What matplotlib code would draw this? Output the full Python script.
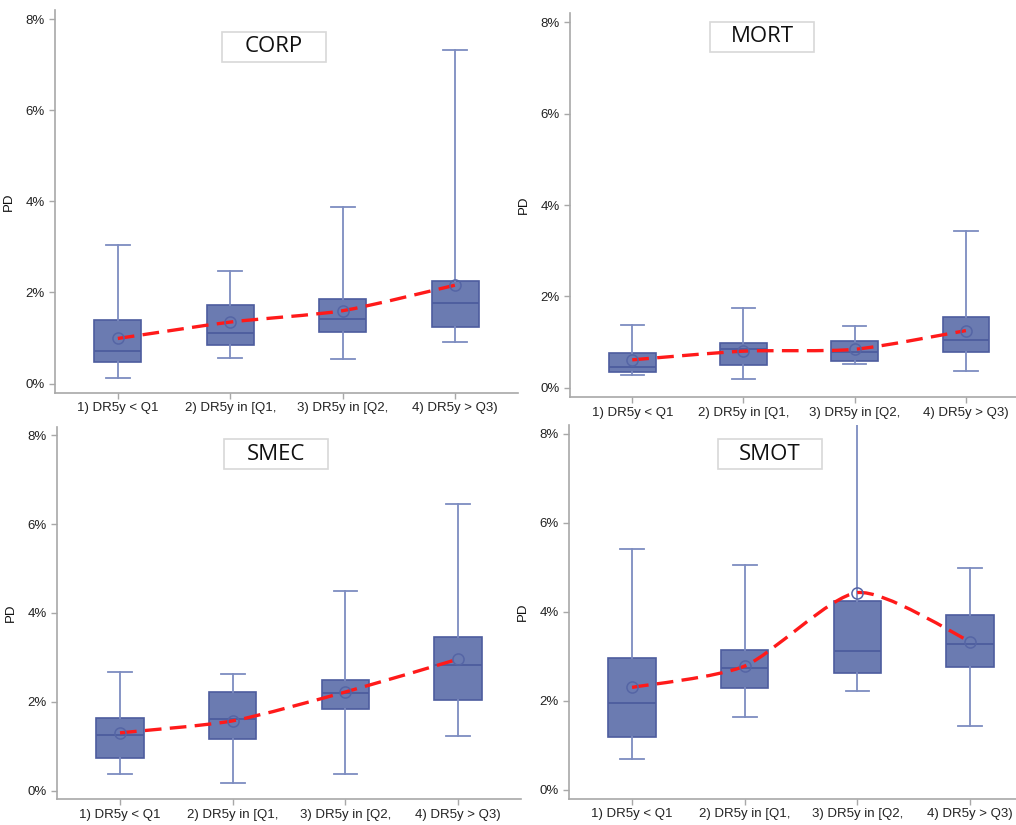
import matplotlib
matplotlib.use("Agg")
from matplotlib import pyplot as plt
from matplotlib.path import Path
from matplotlib.patches import PathPatch, Rectangle
from matplotlib.ticker import FuncFormatter

# categorias do eixo x
categorias = ["1) DR5y < Q1", "2) DR5y in [Q1,", "3) DR5y in [Q2,", "4) DR5y > Q3)"]

# valores em %: minimo, Q1, mediana, Q3, maximo, media
corp_min = [0.12, 0.56, 0.55, 0.92]
corp_q1 = [0.47, 0.85, 1.13, 1.24]
corp_med = [0.71, 1.12, 1.42, 1.76]
corp_q3 = [1.40, 1.73, 1.86, 2.25]
corp_max = [3.05, 2.47, 3.87, 7.33]
corp_media = [0.99, 1.35, 1.60, 2.16]

mort_min = [0.28, 0.19, 0.52, 0.36]
mort_q1 = [0.34, 0.50, 0.58, 0.79]
mort_med = [0.46, 0.85, 0.78, 1.05]
mort_q3 = [0.77, 0.97, 1.02, 1.54]
mort_max = [1.37, 1.75, 1.34, 3.43]
mort_media = [0.61, 0.80, 0.84, 1.25]

smec_min = [0.37, 0.18, 0.37, 1.22]
smec_q1 = [0.73, 1.17, 1.84, 2.04]
smec_med = [1.25, 1.62, 2.19, 2.82]
smec_q3 = [1.64, 2.22, 2.49, 3.46]
smec_max = [2.66, 2.63, 4.50, 6.46]
smec_media = [1.30, 1.57, 2.22, 2.96]

smot_min = [0.68, 1.63, 2.21, 1.44]
smot_q1 = [1.18, 2.28, 2.63, 2.75]
smot_med = [1.94, 2.73, 3.11, 3.27]
smot_q3 = [2.95, 3.15, 4.25, 3.92]
smot_max = [5.41, 5.06, 9.00, 4.98]
smot_media = [2.30, 2.78, 4.43, 3.33]

paineis = [
    ("CORP", corp_min, corp_q1, corp_med, corp_q3, corp_max, corp_media),
    ("MORT", mort_min, mort_q1, mort_med, mort_q3, mort_max, mort_media),
    ("SMEC", smec_min, smec_q1, smec_med, smec_q3, smec_max, smec_media),
    ("SMOT", smot_min, smot_q1, smot_med, smot_q3, smot_max, smot_media),
]

# posicoes dos eixos (left, bottom, width, height) e das caixas de titulo
posicoes = [
    [0.054, 0.524, 0.456, 0.464],
    [0.561, 0.519, 0.451, 0.465],
    [0.056, 0.031, 0.457, 0.452],
    [0.560, 0.032, 0.457, 0.453],
]
titulos_pos = [(274, 47), (762, 37), (276, 454), (770, 454)]

W, H = 1016, 825
fig = plt.figure(figsize=(W / 100, H / 100), dpi=100)

fonte_eixo = ["Liberation Sans Narrow", "Liberation Sans", "DejaVu Sans"]
cor_caixa = "#6b7bb1"
cor_borda = "#4d5c9e"
cor_bigode = "#7d8cc0"
cor_spine = "#a8a8a8"


def curva_suave(x, y, k=0.12):
    # bezier cubica passando pelas medias (estilo spline)
    verts = [(x[0], y[0])]
    codes = [Path.MOVETO]
    n = len(x)
    for i in range(n - 1):
        x0, y0 = (x[i - 1], y[i - 1]) if i > 0 else (x[i], y[i])
        x3, y3 = (x[i + 2], y[i + 2]) if i + 2 < n else (x[i + 1], y[i + 1])
        c1 = (x[i] + k * (x[i + 1] - x0), y[i] + k * (y[i + 1] - y0))
        c2 = (x[i + 1] - k * (x3 - x[i]), y[i + 1] - k * (y3 - y[i]))
        verts += [c1, c2, (x[i + 1], y[i + 1])]
        codes += [Path.CURVE4] * 3
    return Path(verts, codes)


for (nome, mn, q1, med, q3, mx, media), pos, tpos in zip(paineis, posicoes, titulos_pos):
    ax = fig.add_axes(pos)
    stats = []
    for i in range(len(categorias)):
        stats.append({"whislo": mn[i], "q1": q1[i], "med": med[i], "q3": q3[i],
                      "whishi": mx[i], "mean": media[i], "fliers": []})
    xs = list(range(len(categorias)))
    ax.bxp(stats, positions=xs, widths=0.42, patch_artist=True, showmeans=False,
           boxprops=dict(facecolor=cor_caixa, edgecolor=cor_borda, linewidth=1.2),
           medianprops=dict(color=cor_borda, linewidth=1.3),
           whiskerprops=dict(color=cor_bigode, linewidth=1.3),
           capprops=dict(color=cor_bigode, linewidth=1.3),
           manage_ticks=False)

    caminho = curva_suave(xs, media)
    ax.add_patch(PathPatch(caminho, facecolor="none", edgecolor="#ff1a1a",
                           linewidth=2.4, linestyle=(0, (5, 2.5)), zorder=4))
    ax.plot(xs, media, linestyle="none", marker="o", markersize=8,
            markerfacecolor="none", markeredgecolor="#5565a5", markeredgewidth=1.1, zorder=5)

    ax.set_xlim(-0.56, 3.56)
    ax.set_ylim(-0.2, 8.2)
    ax.set_yticks([0, 2, 4, 6, 8])
    ax.yaxis.set_major_formatter(FuncFormatter(lambda v, p: f"{v:.0f}%"))
    ax.set_xticks(xs)
    ax.set_xticklabels(categorias)
    for lbl in ax.get_xticklabels() + ax.get_yticklabels():
        lbl.set_family(fonte_eixo)
        lbl.set_fontsize(9.5)
        lbl.set_color("#222222")
    ax.tick_params(axis="both", colors=cor_spine, length=4, width=1, labelcolor="#222222")
    ax.tick_params(axis="x", pad=3)
    ax.set_ylabel("PD", fontsize=9.5, family=["Liberation Sans", "DejaVu Sans"], color="#111111")
    ax.yaxis.set_label_coords(-40 / (pos[2] * W), 0.5)
    for s in ["top", "right"]:
        ax.spines[s].set_visible(False)
    for s in ["left", "bottom"]:
        ax.spines[s].set_color(cor_spine)
        ax.spines[s].set_linewidth(1.2)

    # caixa do titulo
    cx, cy = tpos
    bw, bh = 104, 30
    fig.patches.append(Rectangle(((cx - bw / 2) / W, 1 - (cy + bh / 2) / H), bw / W, bh / H,
                                 transform=fig.transFigure, facecolor="white",
                                 edgecolor="#d8d8d8", linewidth=1.2, zorder=10))
    fig.text(cx / W, 1 - cy / H, nome, ha="center", va="center", fontsize=16,
             family=["Open Sans", "DejaVu Sans"], color="#111111", zorder=11)

plt.savefig("out.png", dpi=100)
